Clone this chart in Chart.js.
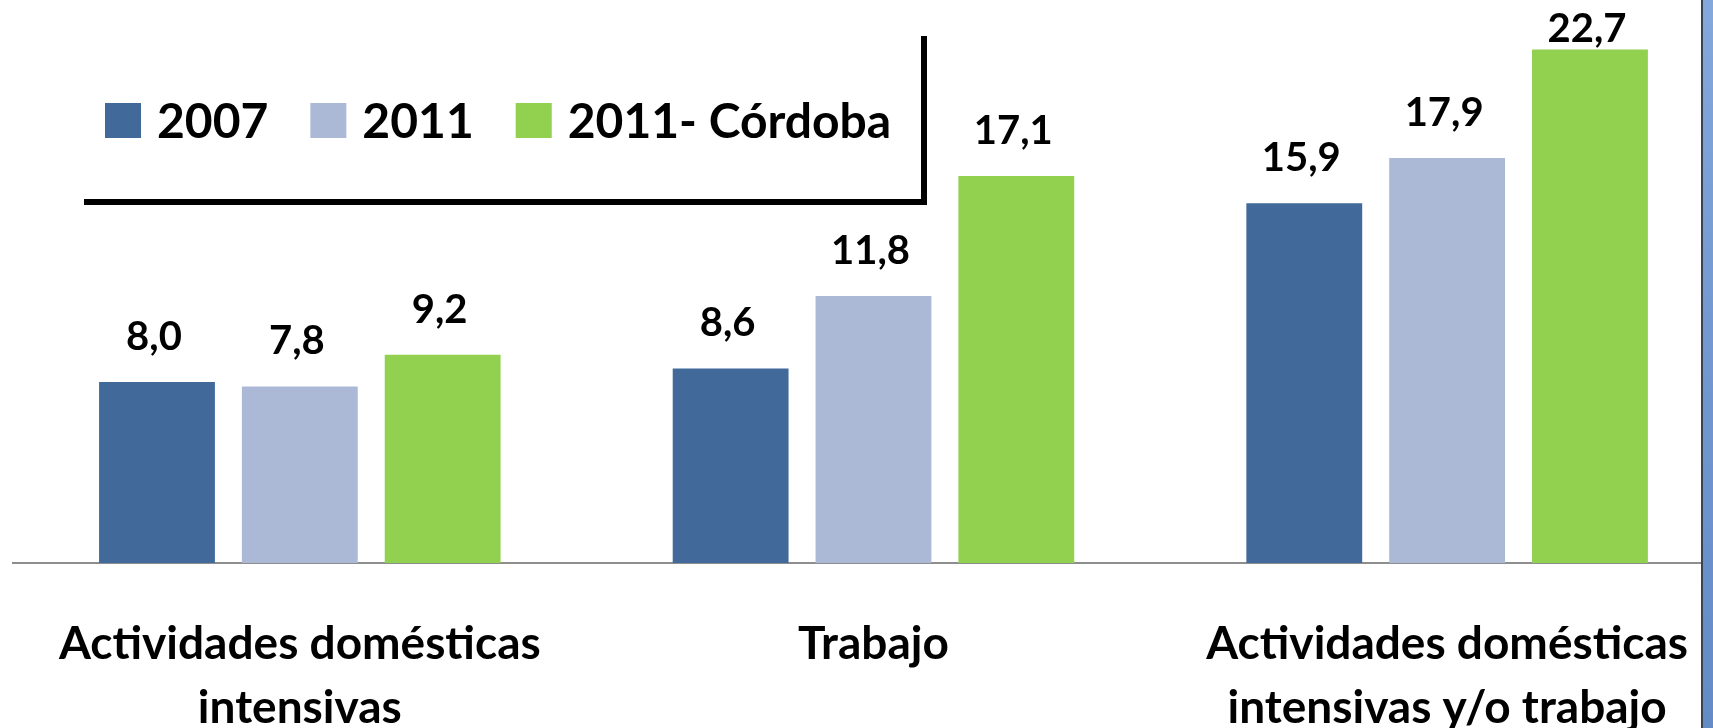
<!DOCTYPE html>
<html lang="es">
<head>
<meta charset="utf-8">
<title>Actividades domésticas intensivas y trabajo</title>
<script src="https://cdn.jsdelivr.net/npm/chart.js@4.4.1/dist/chart.umd.min.js"></script>
<style>
  html, body { margin: 0; padding: 0; background: #fff; overflow: hidden; }
  #wrap { position: relative; width: 1713px; height: 728px; overflow: hidden; }
  #chart { position: absolute; left: 0; top: 0; }
  /* blue slide frame on the right edge */
  #frame {
    position: absolute; left: 1701px; top: 0; width: 12px; height: 728px;
    border-left: 2px solid #3b4252;
    background: linear-gradient(180deg, #84a8dc 0%, #7399d0 45%, #638bc4 100%);
  }
</style>
</head>
<body>
<div id="wrap">
  <canvas id="chart" width="1737" height="728"></canvas>
  <div id="frame"></div>
</div>
<script>
// ── Data ──────────────────────────────────────────────────────────────────────
const categories = [
  ['Actividades domésticas', 'intensivas'],
  ['Trabajo'],
  ['Actividades domésticas', 'intensivas y/o trabajo']
];
const seriesNames = ['2007', '2011', '2011- Córdoba'];
const values2007 = [8.0, 8.6, 15.9];
const values2011 = [7.8, 11.8, 17.9];
const valuesCordoba = [9.2, 17.1, 22.7];
const colors = ['#416a9b', '#abb9d7', '#92d050'];

const FONT = 'Lato, "Open Sans", sans-serif';
const fmt = n => n.toFixed(1).replace('.', ',');

// ── Value labels above each bar ──────────────────────────────────────────────
const valueLabels = {
  id: 'valueLabels',
  afterDatasetsDraw(chart) {
    const ctx = chart.ctx;
    ctx.save();
    ctx.font = 'bold 40px ' + FONT;
    ctx.fillStyle = '#000';
    ctx.textAlign = 'center';
    ctx.textBaseline = 'middle';
    chart.data.datasets.forEach((ds, i) => {
      chart.getDatasetMeta(i).data.forEach((bar, j) => {
        // keep the label inside the canvas for the tallest bar
        const y = Math.max(bar.y - 45, 29);
        ctx.fillText(fmt(ds.data[j]), bar.x - 3, y);
      });
    });
    ctx.restore();
  }
};

// ── Legend in the top-left box with its L-shaped rule ────────────────────────
const boxLegend = {
  id: 'boxLegend',
  afterDraw(chart) {
    const ctx = chart.ctx;
    ctx.save();
    ctx.font = 'bold 48px ' + FONT;
    ctx.textBaseline = 'alphabetic';
    let x = 105;
    chart.data.datasets.forEach(ds => {
      ctx.fillStyle = ds.backgroundColor;
      ctx.fillRect(x, 103, 36, 35);
      ctx.fillStyle = '#000';
      ctx.fillText(ds.label, x + 52, 138);
      x += 52 + ctx.measureText(ds.label).width + 42;
    });

    ctx.strokeStyle = '#000';
    ctx.lineWidth = 6;
    ctx.beginPath();
    ctx.moveTo(924, 36);
    ctx.lineTo(924, 202);
    ctx.lineTo(84, 202);
    ctx.stroke();
    ctx.restore();
  }
};

// ── Chart ─────────────────────────────────────────────────────────────────────
const allSeries = [values2007, values2011, valuesCordoba];

new Chart(document.getElementById('chart'), {
  type: 'bar',
  data: {
    labels: categories,
    datasets: allSeries.map((vals, i) => ({
      label: seriesNames[i],
      data: vals,
      backgroundColor: colors[i],
      borderWidth: 0,
      categoryPercentage: 0.747,
      barPercentage: 0.811
    }))
  },
  options: {
    responsive: false,
    devicePixelRatio: 1,
    animation: false,
    layout: { padding: { left: 13, right: 0, top: 20, bottom: 0 } },
    plugins: {
      legend: { display: false },
      tooltip: { enabled: false }
    },
    scales: {
      x: {
        grid: { display: false, drawTicks: false },
        border: { display: true, color: '#8e8e8e', width: 2 },
        ticks: {
          color: '#000',
          font: { family: FONT, size: 46, weight: 'bold', lineHeight: 1.39 },
          padding: 49,
          maxRotation: 0,
          autoSkip: false
        },
        afterFit: s => { s.height = 165; }
      },
      y: {
        display: false,
        min: 0,
        max: 24
      }
    }
  },
  plugins: [valueLabels, boxLegend]
});
</script>
</body>
</html>
